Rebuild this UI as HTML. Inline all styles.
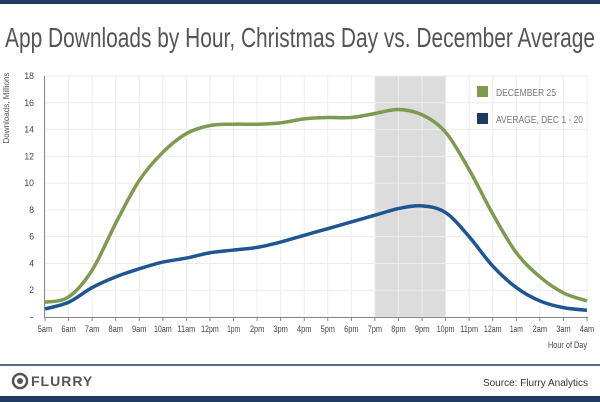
<!DOCTYPE html>
<html><head><style>
body{margin:0;width:600px;height:402px;background:#fff;overflow:hidden;position:relative;font-family:"Liberation Sans",sans-serif}
</style></head><body>
<svg width="600" height="402" viewBox="0 0 600 402" style="position:absolute;left:0;top:0">
<rect x="0" y="0" width="600" height="4" fill="#1e3a5f"/>
<text x="5" y="47" font-size="27.5" fill="#555" textLength="590" lengthAdjust="spacingAndGlyphs">App Downloads by Hour, Christmas Day vs. December Average</text>
<rect x="375" y="76" width="71" height="241" fill="#dcdcdc"/>
<g stroke="#ececec" stroke-width="1" id="grid"></g>
<line x1="44.5" y1="76" x2="44.5" y2="317" stroke="#888"/>
<line x1="44" y1="317.5" x2="588" y2="317.5" stroke="#888"/>
<g id="ticks" font-size="9.5" fill="#444"></g>
<text transform="translate(9,108) rotate(-90)" font-size="8.5" fill="#555" text-anchor="middle" textLength="71" lengthAdjust="spacingAndGlyphs">Downloads, Millions</text>
<text x="548" y="348" font-size="9.5" fill="#444" textLength="39" lengthAdjust="spacingAndGlyphs">Hour of Day</text>
<path id="g" fill="none" stroke="#7d9a4f" stroke-width="3.5"/>
<path id="b" fill="none" stroke="#1f5591" stroke-width="3.5"/>
<rect x="477" y="86" width="11" height="11" fill="#7d9a4f"/>
<text x="496" y="96" font-size="10.5" fill="#777" textLength="60" lengthAdjust="spacingAndGlyphs">DECEMBER 25</text>
<rect x="477" y="113" width="11" height="11" fill="#1e3a5f"/>
<text x="496" y="123" font-size="10.5" fill="#777" textLength="87" lengthAdjust="spacingAndGlyphs">AVERAGE, DEC 1 - 20</text>
<line x1="0" y1="365" x2="600" y2="365" stroke="#1e3a5f" stroke-width="1.5"/>
<circle cx="20" cy="381" r="7" fill="none" stroke="#555" stroke-width="2.5"/>
<circle cx="20" cy="381" r="3" fill="#555"/>
<text x="31" y="386" font-size="14" font-weight="bold" fill="#555" letter-spacing="1">FLURRY</text>
<text x="588" y="386" font-size="10" fill="#333" text-anchor="end">Source: Flurry Analytics</text>
<rect x="0" y="396" width="600" height="6" fill="#1e3a5f"/>
</svg>
<script>
var X0=45,DX=(587-45)/23,Y0=317,DY=241/18;
var labels=["5am","6am","7am","8am","9am","10am","11am","12pm","1pm","2pm","3pm","4pm","5pm","6pm","7pm","8pm","9pm","10pm","11pm","12am","1am","2am","3am","4am"];
var G=[1.1,1.5,3.5,7,10.2,12.3,13.7,14.3,14.4,14.4,14.5,14.8,14.9,14.9,15.2,15.5,15.1,13.8,11,7.7,4.8,3,1.8,1.2];
var B=[0.6,1.1,2.2,3,3.6,4.1,4.4,4.8,5,5.2,5.6,6.1,6.6,7.1,7.6,8.1,8.3,7.8,6,3.8,2.2,1.2,0.7,0.5];
var ns="http://www.w3.org/2000/svg",grid=document.getElementById("grid"),ticks=document.getElementById("ticks");
function el(p,n,a){var e=document.createElementNS(ns,n);for(var k in a)e.setAttribute(k,a[k]);p.appendChild(e);return e;}
for(var i=0;i<24;i++){var x=X0+i*DX;el(grid,"line",{x1:x,y1:76,x2:x,y2:317});
el(ticks,"line",{x1:x,y1:317,x2:x,y2:321,stroke:"#888"});
var L=labels[i];var w=L.length*4.8-(L.indexOf("1")>=0?1.5:0);
var t=el(ticks,"text",{x:x-w/2,y:332,textLength:w,lengthAdjust:"spacingAndGlyphs"});t.textContent=L;}
for(var v=0;v<=18;v+=2){var y=Y0-v*DY;el(grid,"line",{x1:44,y1:y,x2:588,y2:y});
var s=v==0?"-":String(v);var w=s.length*4.8;
var t=el(ticks,"text",{x:34-w,y:y+3,textLength:w,lengthAdjust:"spacingAndGlyphs"});t.textContent=s;}
function path(d){var p=d.map(function(v,i){return[X0+i*DX,Y0-v*DY]});var s="M"+p[0][0]+","+p[0][1];
for(var i=0;i<p.length-1;i++){var a=p[i-1]||p[i],b=p[i],c=p[i+1],e=p[i+2]||c;
s+=" C"+(b[0]+(c[0]-a[0])/6)+","+(b[1]+(c[1]-a[1])/6)+" "+(c[0]-(e[0]-b[0])/6)+","+(c[1]-(e[1]-b[1])/6)+" "+c[0]+","+c[1];}return s;}
document.getElementById("g").setAttribute("d",path(G));
document.getElementById("b").setAttribute("d",path(B));
</script>
</body></html>
